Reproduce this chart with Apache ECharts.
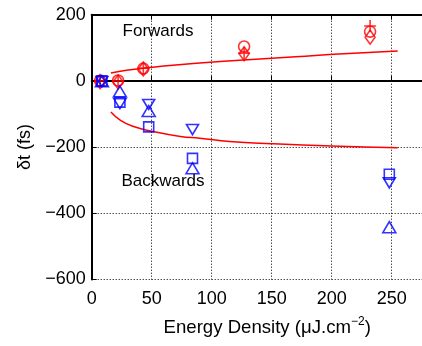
<!DOCTYPE html>
<html><head><meta charset="utf-8">
<script src="https://cdn.jsdelivr.net/npm/echarts@6/dist/echarts.min.js"></script>
<style>html,body{margin:0;padding:0;background:#fff}#c{width:422px;height:346px}</style>
</head><body><div id="c"></div>
<script>
// ---- data ----
const fwdCurveX = [16, 25, 40, 60, 90, 130, 170, 210, 255];
const fwdCurveY = [24, 30, 37, 45, 54, 64, 73, 82, 90];
const bwdCurveX = [16, 24, 35, 50, 74, 90, 115, 150, 200, 255];
const bwdCurveY = [-94, -119, -138, -152, -168, -173, -183, -190, -197, -202];

const redX = [7, 22, 43, 127, 232];
const redCircleY = [0, 1, 37, 104, 149];
const redDiamondY = [-2, -3, 36, 82, 132];
const redPlusY = [0, 0, 38, 84, 166];

const blueX = [8.5, 23.5, 47.5, 84, 248];
const blueSquareY = [0, -64, -139, -234, -282];
const blueUpY = [-1, -32, -91, -264, -442];
const blueDownY = [-2, -69, -71, -147, -308];

const xTicks = [0, 50, 100, 150, 200, 250];
const yTicks = [-600, -400, -200, 0, 200];
const annotations = [["Forwards", 158, 31], ["Backwards", 163, 181]];

// ---- chart ----
const zip = (xs, ys) => xs.map((x, i) => [x, ys[i]]);
const RED = '#ff0000', BLUE = '#0000ff';
const FONT = 'Liberation Sans, Arial, Helvetica, sans-serif';
function sc(name, xs, ys, color, symbol, size, rot) {
  return {
    type: 'scatter', name, data: zip(xs, ys), symbol, symbolSize: size,
    symbolRotate: rot || 0,
    itemStyle: { color: 'none', borderColor: color, borderWidth: 1.6 },
    emphasis: { disabled: true }, z: 5
  };
}
function ln(xs, ys) {
  return {
    type: 'line', data: zip(xs, ys), showSymbol: false, smooth: true,
    lineStyle: { color: RED, width: 1.5 }, z: 3, emphasis: { disabled: true }
  };
}
const PLUS = 'path://M6,0L6,12M0,6L12,6';
const chart = echarts.init(document.getElementById('c'), null, { renderer: 'canvas' });
chart.setOption({
  animation: false,
  backgroundColor: '#fff',
  textStyle: { fontFamily: FONT },
  grid: { left: 91.7, top: 14.7, width: 360, height: 264.8, containLabel: false, outerBoundsMode: 'none' },
  xAxis: [{
    type: 'value', min: 0, max: 300, interval: 50, position: 'bottom',
    axisLine: { lineStyle: { color: '#000', width: 2 } },
    axisTick: { inside: true, length: 5, lineStyle: { color: '#000' } },
    axisLabel: { color: '#000', fontSize: 18, margin: 11, fontFamily: FONT,
      formatter: v => xTicks.includes(v) ? String(v) : '' },
    splitLine: { show: true, lineStyle: { color: '#000', type: [1, 2], width: 1 } },
    name: '{a|Energy Density (μJ.cm}{s|−2}{a|)}', nameLocation: 'middle', nameGap: 36,
    nameTextStyle: {
      padding: [0, 9, 0, 0],
      rich: {
        a: { fontSize: 18.6, color: '#000', fontFamily: FONT, lineHeight: 22, verticalAlign: 'bottom' },
        s: { fontSize: 12, color: '#000', fontFamily: FONT, lineHeight: 22, verticalAlign: 'top' }
      }
    }
  }, {
    type: 'value', min: 0, max: 300, interval: 50, position: 'top',
    axisLine: { lineStyle: { color: '#000', width: 2 } },
    axisTick: { inside: true, length: 5, lineStyle: { color: '#000' } },
    axisLabel: { show: false }, splitLine: { show: false }
  }],
  yAxis: [{
    type: 'value', min: -600, max: 200, interval: 200,
    axisLine: { show: true, lineStyle: { color: '#000', width: 2 } },
    axisTick: { show: true, inside: true, length: 5, lineStyle: { color: '#000' } },
    axisLabel: { color: '#000', fontSize: 18, margin: 6, fontFamily: FONT,
      formatter: v => yTicks.includes(v) ? String(v).replace('-', '\u2212') : '' },
    splitLine: { show: true, lineStyle: { color: '#000', type: [1, 2], width: 1 } },
    name: 'δt (fs)', nameLocation: 'middle', nameGap: 57,
    nameTextStyle: { fontSize: 18, color: '#000', fontFamily: FONT }
  }],
  graphic: annotations.map(([t, x, y]) => ({
    type: 'text', x: x, y: y, z: 10,
    style: { text: t, fontSize: 17, fontFamily: FONT, fill: '#000', align: 'center', verticalAlign: 'middle' }
  })),
  series: [
    ln(fwdCurveX, fwdCurveY),
    ln(bwdCurveX, bwdCurveY),
    sc('rc', redX, redCircleY, RED, 'circle', 11),
    sc('rd', redX, redDiamondY, RED, 'diamond', [10, 14]),
    sc('rp', redX, redPlusY, RED, PLUS, 12),
    sc('bs', blueX, blueSquareY, BLUE, 'rect', 10),
    sc('bu', blueX, blueUpY, BLUE, 'triangle', [13, 11]),
    sc('bd', blueX, blueDownY, BLUE, 'triangle', [12, 10], 180)
  ]
});
</script></body></html>
